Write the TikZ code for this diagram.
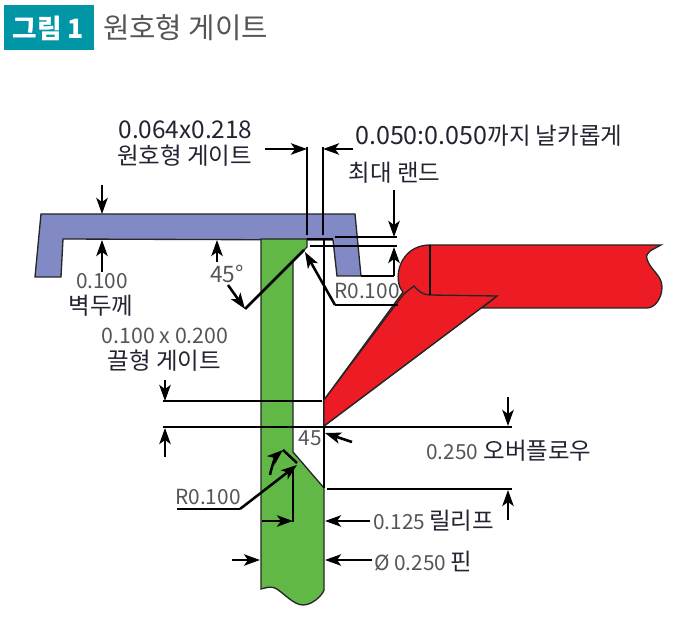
\documentclass[tikz,border=0pt]{standalone}
\usepackage{fontspec}
\setmainfont{Noto Sans CJK KR}
\usetikzlibrary{arrows.meta}
\definecolor{titleteal}{RGB}{0,150,166}
\definecolor{moldblue}{RGB}{130,138,198}
\definecolor{pingreen}{RGB}{98,184,70}
\definecolor{runnerred}{RGB}{237,28,36}
\definecolor{labelgray}{RGB}{85,85,85}
\definecolor{labelink}{RGB}{35,35,50}
\newcommand{\kolabel}[1]{{\color{labelink}\fontsize{17.6}{20}\selectfont #1}}
\tikzset{
	dimline/.style={line width=1.9pt},
	dimarrow/.style={line width=1.9pt,-{Stealth[length=12pt,width=8.5pt,inset=3pt]}},
	outline/.style={draw=black!85,line width=1pt},
	biglabel/.style={inner sep=0pt,text=labelink,font=\fontsize{17.6}{20}\selectfont},
	graylabel/.style={inner sep=0pt,text=labelgray,font=\fontsize{15.6}{18}\selectfont},
}
\begin{document}
\begin{tikzpicture}[x=0.75pt,y=0.75pt,yscale=-1]
	\useasboundingbox (0,0) rectangle (687,631);
	
	%Shape: Title box
	\fill [titleteal] (4,5) rectangle (94,50);
	
	%Shape: Mold
	\draw [outline,fill=moldblue] (41,214) -- (355,214) -- (361,276) -- (337,276) -- (333,240) -- (63,239) -- (61,277) -- (35,277) -- cycle;
	%Shape: Pin
	\draw [outline,fill=pingreen] (261,239) -- (307,239) -- (307,247) -- (293,261) -- (293,452) -- (324,488) -- (324,590) .. controls (322,596) and (312,605) .. (303,605) .. controls (293,605) and (283,592) .. (275,588) .. controls (270,586) and (265,588) .. (261,589) -- cycle;
	%Straight Lines: pin side above relief
	\draw [line width=1pt] (324,239) -- (324,488);
	%Straight Lines: land
	\draw [line width=1pt] (307,239) -- (333,239);
	
	%Shape: Runner
	\draw [outline,fill=runnerred] (430,245) -- (661,245) .. controls (652,250) and (645,252) .. (647,259) .. controls (650,270) and (662,275) .. (662,287) .. controls (662,298) and (655,308) .. (647,308) -- (482,308) -- (497,296) -- (324,426) -- (324,400) -- (403,292) .. controls (392,280) and (399,245) .. (430,245) -- cycle;
	%Shape: Sub gate
	\draw [outline,fill=runnerred] (324,426) -- (324,400) -- (403,295) .. controls (406,292) and (410,289) .. (414,286) .. controls (418,291) and (423,295) .. (430,295) -- (497,296) -- cycle;
	\draw [line width=1pt] (430,245) -- (430,295);
	
	%Straight Lines: round gate dimension
	\draw [dimline] (307,147) -- (307,235);
	\draw [dimline] (323,147) -- (323,235);
	\draw [dimarrow] (265,149) -- (307,149);
	\draw [dimarrow] (353,149) -- (323,149);
	%Straight Lines: wall thickness
	\draw [dimarrow] (102,185) -- (102,214);
	\draw [dimarrow] (102,272) -- (102,240);
	%Straight Lines: 45 degree
	\draw [dimarrow] (217,262) -- (217,240);
	\draw [dimarrow] (228,285) -- (245,309);
	\draw [dimline] (245,309) -- (304,250);
	%Straight Lines: gate radius
	\draw [dimarrow] (335,305) -- (305,252);
	\draw [dimline] (335,305) -- (398,305);
	%Straight Lines: max land
	\draw [dimline] (335,237) -- (397,237);
	\draw [dimline] (310,246) -- (397,246);
	\draw [dimarrow] (394,190) -- (394,237);
	\draw [dimarrow] (394,276) -- (394,247);
	\draw [line width=1pt] (361,276) -- (394,276);
	%Straight Lines: edge gate and overflow
	\draw [dimline] (163,401) -- (322,401);
	\draw [dimline] (163,427) -- (512,427);
	\draw [dimarrow] (165,380) -- (165,401);
	\draw [dimarrow] (165,457) -- (165,428);
	\draw [dimarrow] (508,397) -- (508,426);
	\draw [dimarrow] (352,442) -- (325,433);
	%Straight Lines: relief
	\draw [dimline] (327,489) -- (512,489);
	\draw [dimarrow] (508,520) -- (508,490);
	\draw [dimline] (293,467) -- (293,522);
	\draw [dimarrow] (262,521) -- (293,521);
	\draw [dimarrow] (370,521) -- (325,521);
	%Straight Lines: pin radius
	\draw [dimline] (177,509) -- (240,509);
	\draw [dimarrow] (240,509) -- (297,465);
	\draw [dimarrow] (270,475) .. controls (272,465) and (276,456) .. (283,450);
	\draw [dimline] (283,450) -- (297,463);
	%Straight Lines: pin diameter
	\draw [dimarrow] (232,560) -- (260,560);
	\draw [dimarrow] (372,560) -- (325,560);
	
	% Text Node
	\draw (48.5,28) node (titleNum) [inner sep=0pt,text=white,font=\fontsize{20}{24}\selectfont\bfseries] {그림 1};
	% Text Node
	\draw (185.5,28) node (titleName) [inner sep=0pt,text=labelgray,font=\fontsize{21.5}{25}\selectfont] {원호형 게이트};
	% Text Node
	\draw (185.5,130) node (roundSize) [biglabel,font=\fontsize{18.3}{20}\selectfont] {0.064x0.218};
	% Text Node
	\draw (184.5,156) node (roundName) [biglabel] {원호형 게이트};
	% Text Node
	\draw (355,136) node (sharpName) [biglabel,anchor=west] {{\fontsize{18.8}{20}\selectfont 0.050:0.050}까지 날카롭게};
	% Text Node
	\draw (394.5,173) node (landName) [biglabel] {최대 랜드};
	% Text Node
	\draw (102,281) node (wallSize) [graylabel] {0.100};
	% Text Node
	\draw (101,306) node (wallName) [biglabel] {벽두께};
	% Text Node
	\draw (227,274) node (angleTop) [graylabel,font=\fontsize{17}{20}\selectfont] {45°};
	% Text Node
	\draw (165,336) node (edgeSize) [graylabel,font=\fontsize{16}{18}\selectfont] {0.100 x 0.200};
	% Text Node
	\draw (164.5,361) node (edgeName) [biglabel] {끌형 게이트};
	% Text Node
	\draw (367,291) node (gateRad) [graylabel] {R0.100};
	% Text Node
	\draw (310,438) node (angleLow) [graylabel] {45};
	% Text Node
	\draw (426,451) node (overName) [graylabel,anchor=west] {0.250\hspace{4pt}\kolabel{오버플로우}};
	% Text Node
	\draw (208,497) node (pinRad) [graylabel] {R0.100};
	% Text Node
	\draw (373,521) node (reliefName) [graylabel,anchor=west] {0.125\hspace{3pt}\kolabel{릴리프}};
	% Text Node
	\draw (374,561) node (pinName) [graylabel,anchor=west] {Ø 0.250\hspace{3pt}\kolabel{핀}};
\end{tikzpicture}
\end{document}
